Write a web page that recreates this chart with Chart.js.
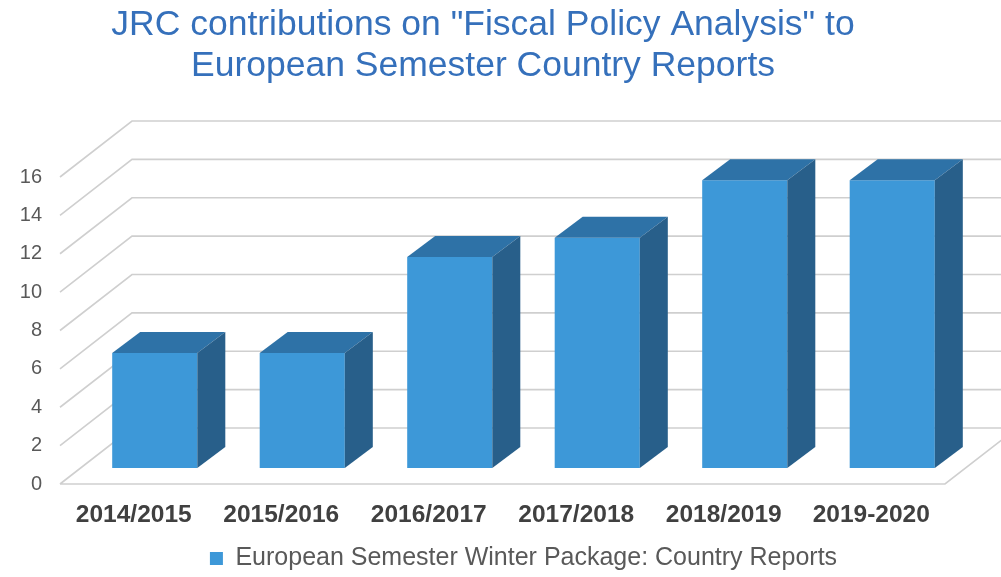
<!DOCTYPE html>
<html>
<head>
<meta charset="utf-8">
<script src="https://cdn.jsdelivr.net/npm/chart.js@4.4.0/dist/chart.umd.min.js"></script>
<style>
  html, body { margin: 0; padding: 0; background: #ffffff; }
  #wrap { width: 1001px; height: 577px; position: relative; }
</style>
</head>
<body>
<div id="wrap"><canvas id="c" width="1001" height="577"></canvas></div>
<script>
const categories = ["2014/2015", "2015/2016", "2016/2017", "2017/2018", "2018/2019", "2019-2020"];
const seriesName = "European Semester Winter Package: Country Reports";
const seriesValues = [6, 6, 11, 12, 15, 15];
const yMin = 0;
const yMax = 16;
const yStep = 2;
const titleLines = ['JRC contributions on "Fiscal Policy Analysis" to', 'European Semester Country Reports'];

// 3D projection offsets (pixels) relative to the bar plane
const D = { frontDx: 21, frontDy: 16, backDx: 51, backDy: 40, barDx: 28, barDy: 21 };
const COL = { front: '#3d98d8', top: '#2e72a7', side: '#285f8a', grid: '#cfcfcf' };

const threeD = {
  id: 'threeD',
  beforeDatasetsDraw(chart) {
    const { ctx, chartArea: a, scales: { x, y } } = chart;
    ctx.save();
    ctx.strokeStyle = COL.grid;
    ctx.lineWidth = 1.6;
    ctx.beginPath();
    y.ticks.forEach(t => {
      const py = y.getPixelForValue(t.value);
      ctx.moveTo(a.left - D.frontDx, py + D.frontDy);
      ctx.lineTo(a.left + D.backDx, py - D.backDy);
      ctx.lineTo(a.right + D.backDx, py - D.backDy);
    });
    const p0 = y.getPixelForValue(yMin);
    ctx.moveTo(a.left - D.frontDx, p0 + D.frontDy);
    ctx.lineTo(a.right - D.frontDx, p0 + D.frontDy);
    ctx.lineTo(a.right + D.backDx, p0 - D.backDy);
    ctx.stroke();
    ctx.restore();
  },
  afterDatasetsDraw(chart) {
    const { ctx } = chart;
    const meta = chart.getDatasetMeta(0);
    ctx.save();
    meta.data.forEach(el => {
      const p = el.getProps(['x', 'y', 'base', 'width'], true);
      const l = p.x - p.width / 2, r = p.x + p.width / 2;
      const top = p.y, base = p.base;
      ctx.fillStyle = COL.top;
      ctx.beginPath();
      ctx.moveTo(l, top);
      ctx.lineTo(r, top);
      ctx.lineTo(r + D.barDx, top - D.barDy);
      ctx.lineTo(l + D.barDx, top - D.barDy);
      ctx.closePath();
      ctx.fill();
      ctx.fillStyle = COL.side;
      ctx.beginPath();
      ctx.moveTo(r, top);
      ctx.lineTo(r + D.barDx, top - D.barDy);
      ctx.lineTo(r + D.barDx, base - D.barDy);
      ctx.lineTo(r, base);
      ctx.closePath();
      ctx.fill();
    });
    ctx.restore();
  }
};

new Chart(document.getElementById('c'), {
  type: 'bar',
  data: {
    labels: categories,
    datasets: [{
      label: seriesName,
      data: seriesValues,
      backgroundColor: COL.front,
      borderWidth: 0,
      barPercentage: 0.577,
      categoryPercentage: 1.0
    }]
  },
  options: {
    responsive: false,
    animation: false,
    events: [],
    layout: { padding: { left: 0, right: 35, top: 0, bottom: -4 } },
    plugins: {
      title: {
        display: true,
        text: titleLines,
        color: '#3570bb',
        font: { family: 'Liberation Sans, Arial, sans-serif', size: 35.5, weight: 'normal', lineHeight: 1.155 },
        padding: { top: 5, bottom: 74 }
      },
      legend: {
        display: true,
        position: 'bottom',
        fullSize: false,
        labels: {
          color: '#595959',
          boxWidth: 13,
          boxHeight: 13,
          padding: 2,
          font: { family: 'Liberation Sans, Arial, sans-serif', size: 25 }
        }
      },
      tooltip: { enabled: false }
    },
    scales: {
      x: {
        grid: { display: false, drawTicks: false },
        border: { display: false },
        ticks: {
          color: '#404040',
          font: { family: 'Liberation Sans, Arial, sans-serif', size: 24.5, weight: 'bold' },
          labelOffset: -D.frontDx,
          padding: 33,
          maxRotation: 0,
          autoSkip: false
        },
        afterFit(s) { s.height = 76; }
      },
      y: {
        min: yMin,
        max: yMax,
        grid: { display: false, drawTicks: false },
        border: { display: false },
        ticks: {
          stepSize: yStep,
          color: '#595959',
          font: { family: 'Liberation Sans, Arial, sans-serif', size: 20 },
          labelOffset: D.frontDy,
          padding: 39
        },
        afterFit(s) { s.width = 81; }
      }
    }
  },
  plugins: [threeD]
});
</script>
</body>
</html>
